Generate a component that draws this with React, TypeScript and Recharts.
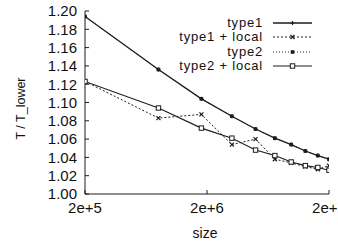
import React from "react";
import { LineChart, Line, XAxis, YAxis, Label } from "recharts";

// problem sizes (2e5 * k^2) and the measured ratios
const sizes = [2e5, 8e5, 1.8e6, 3.2e6, 5e6, 7.2e6, 9.8e6, 1.28e7, 1.62e7, 2e7];
const type1 = [1.194, 1.136, 1.104, 1.085, 1.071, 1.061, 1.054, 1.047, 1.042, 1.038];
const type1Local = [1.123, 1.083, 1.087, 1.054, 1.06, 1.038, 1.034, 1.03, 1.027, 1.031];
const type2 = [1.194, 1.136, 1.104, 1.085, 1.071, 1.061, 1.054, 1.047, 1.042, 1.038];
const type2Local = [1.123, 1.094, 1.072, 1.061, 1.048, 1.042, 1.035, 1.031, 1.029, 1.026];

const xTicks = [2e5, 2e6, 2e7];
const xTickLabels = ["2e+5", "2e+6", "2e+7"];
const yTicks = [1.0, 1.02, 1.04, 1.06, 1.08, 1.1, 1.12, 1.14, 1.16, 1.18, 1.2];

const INK = "#1c1c1c";
const FONT = "'Liberation Sans', Arial, Helvetica, sans-serif";

type Marker = "plus" | "cross" | "square" | "open";

const drawMarker = (kind: Marker, cx: number, cy: number, key?: React.Key) => {
  if (kind === "plus")
    return (
      <path key={key} d={`M${cx - 2},${cy}H${cx + 2}M${cx},${cy - 2}V${cy + 2}`} stroke={INK} strokeWidth={1.2} fill="none" />
    );
  if (kind === "cross")
    return (
      <path key={key} d={`M${cx - 2},${cy - 2}L${cx + 2},${cy + 2}M${cx - 2},${cy + 2}L${cx + 2},${cy - 2}`} stroke={INK} strokeWidth={1.2} fill="none" />
    );
  if (kind === "square")
    return <rect key={key} x={cx - 1.8} y={cy - 1.8} width={3.6} height={3.6} fill={INK} />;
  return <rect key={key} x={cx - 2.2} y={cy - 2.2} width={4.4} height={4.4} fill="#fff" stroke={INK} strokeWidth={1} />;
};

const series: { key: string; name: string; values: number[]; dash?: string; width: number; marker: Marker }[] = [
  { key: "t1", name: "type1", values: type1, width: 1.3, marker: "plus" },
  { key: "t1l", name: "type1 + local", values: type1Local, dash: "2 2", width: 1, marker: "cross" },
  { key: "t2", name: "type2", values: type2, dash: "1 2", width: 1, marker: "square" },
  { key: "t2l", name: "type2 + local", values: type2Local, width: 1.1, marker: "open" },
];

const data = sizes.map((size, i) => {
  const row: Record<string, number> = { size };
  series.forEach((s) => (row[s.key] = s.values[i]));
  return row;
});

const tickStyle = { fill: "#111", fontSize: 15, fontFamily: FONT };

export default function App() {
  return (
    <div style={{ position: "absolute", left: 0, top: 0, width: 338, height: 242, background: "#fff", fontFamily: FONT }}>
      <LineChart width={338} height={242} data={data} margin={{ top: 11, right: 9, bottom: 0, left: 0 }}>
        <XAxis
          xAxisId="b"
          dataKey="size"
          type="number"
          scale="log"
          domain={[2e5, 2e7]}
          allowDataOverflow
          ticks={xTicks}
          interval={0}
          tickFormatter={(v: number) => xTickLabels[xTicks.indexOf(v)] ?? ""}
          height={48}
          stroke={INK}
          tickSize={-4}
          tickMargin={12}
          tick={tickStyle}
        >
          <Label
            content={({ viewBox }: any) => (
              <text x={viewBox.x + viewBox.width / 2 - 2} y={238} textAnchor="middle" fill="#111" fontSize={14} fontFamily={FONT}>
                size
              </text>
            )}
          />
        </XAxis>
        <XAxis
          xAxisId="t"
          orientation="top"
          dataKey="size"
          type="number"
          scale="log"
          domain={[2e5, 2e7]}
          allowDataOverflow
          ticks={xTicks}
          interval={0}
          tickFormatter={() => ""}
          height={0}
          stroke={INK}
          tickSize={-4}
        />
        <YAxis
          yAxisId="l"
          domain={[1.0, 1.2]}
          ticks={yTicks}
          interval={0}
          tickFormatter={(v: number) => v.toFixed(2)}
          width={85}
          stroke={INK}
          tickSize={-4}
          tickMargin={12}
          tick={tickStyle}
        >
          <Label
            content={({ viewBox }: any) => {
              const cx = 25;
              const cy = viewBox.y + viewBox.height / 2 + 6;
              return (
                <text x={cx} y={cy} transform={`rotate(-90, ${cx}, ${cy})`} textAnchor="middle" fill="#111" fontSize={12.5} fontFamily={FONT}>
                  T / T_lower
                </text>
              );
            }}
          />
        </YAxis>
        <YAxis
          yAxisId="r"
          orientation="right"
          domain={[1.0, 1.2]}
          ticks={yTicks}
          interval={0}
          tickFormatter={() => ""}
          width={0}
          stroke={INK}
          tickSize={-4}
        />
        {series.map((s) => (
          <Line
            key={s.key}
            xAxisId="b"
            yAxisId="l"
            dataKey={s.key}
            name={s.name}
            type="linear"
            stroke={INK}
            strokeWidth={s.width}
            strokeDasharray={s.dash}
            dot={(p: any) => drawMarker(s.marker, p.cx, p.cy, `${s.key}-${p.index}`)}
            activeDot={false}
            isAnimationActive={false}
          />
        ))}
      </LineChart>
      {/* key box, top right inside the frame */}
      {series.map((s, i) => (
        <div
          key={s.key}
          style={{
            position: "absolute",
            left: 150,
            top: 15.5 + i * 14.5,
            height: 14,
            display: "flex",
            alignItems: "center",
            fontSize: 13,
            lineHeight: "14px",
            letterSpacing: "0.8px",
            color: "#111",
          }}
        >
          <span style={{ width: 113, textAlign: "right", whiteSpace: "nowrap" }}>{s.name}</span>
          <svg width={50} height={10} style={{ marginLeft: 10 }}>
            <line x1={0} y1={5} x2={39} y2={5} stroke={INK} strokeWidth={s.width} strokeDasharray={s.dash} />
            {drawMarker(s.marker, 19.5, 5)}
          </svg>
        </div>
      ))}
    </div>
  );
}
